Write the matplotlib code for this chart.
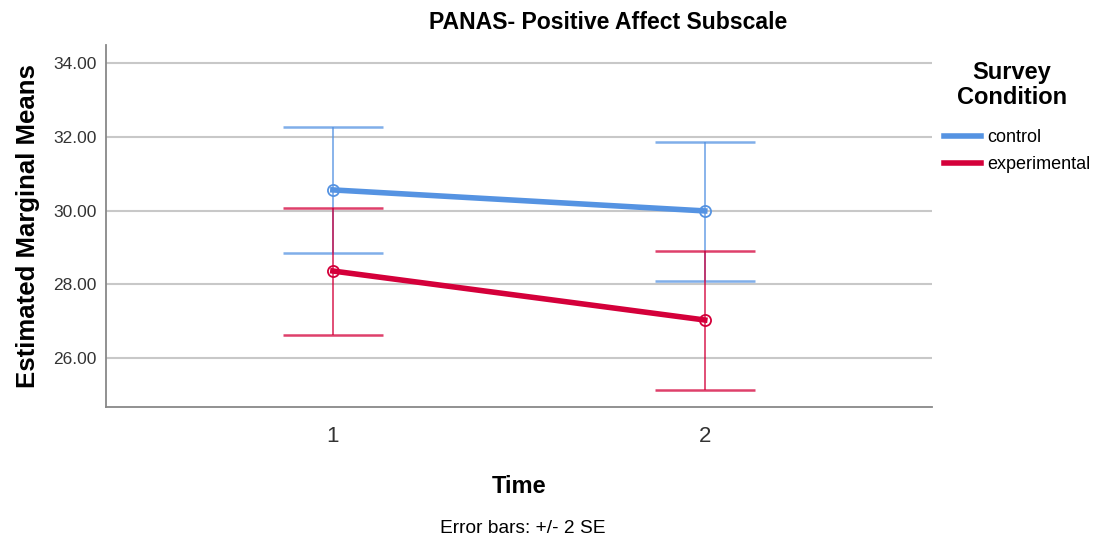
import matplotlib
matplotlib.use("Agg")
import matplotlib.pyplot as plt
from matplotlib.lines import Line2D

plt.rcParams['font.family'] = ['Liberation Sans', 'DejaVu Sans']

# данные
times = [1, 2]
time_labels = ["1", "2"]
control_mean = [30.56, 29.99]
control_hi = [32.26, 31.86]
control_lo = [28.85, 28.09]
exp_mean = [28.36, 27.03]
exp_hi = [30.07, 28.90]
exp_lo = [26.62, 25.13]
yticks = [26, 28, 30, 32, 34]

blue = "#5593E2"
red = "#D4003A"

fig = plt.figure(figsize=(10.95, 5.41), dpi=100)
ax = fig.add_axes([0.0968, 0.2477, 0.754, 0.669])

for mean, lo, hi, col in [(control_mean, control_lo, control_hi, blue),
                          (exp_mean, exp_lo, exp_hi, red)]:
    err = [[m - l for m, l in zip(mean, lo)], [h - m for h, m in zip(hi, mean)]]
    ax.errorbar(times, mean, yerr=err, fmt="none", ecolor=col, elinewidth=1.3,
                capsize=36, capthick=1.8, alpha=0.75, zorder=3)
    ax.plot(times, mean, color=col, lw=4, zorder=4)
    ax.plot(times, mean, "o", ms=8, mfc="none", mec=col, mew=1.3, zorder=5)

ax.set_xlim(0.39, 2.61)
ax.set_ylim(24.67, 34.49)
ax.set_xticks(times)
ax.set_xticklabels(time_labels, fontsize=16, color="#333333")
ax.set_yticks(yticks)
ax.set_yticklabels([f"{v:.2f}" for v in yticks], fontsize=12.5, color="#333333")
ax.tick_params(axis="both", length=0, pad=7)
ax.tick_params(axis="x", pad=14)
ax.grid(axis="y", color="#c8c8c8", lw=1.5)
ax.set_axisbelow(True)
for s in ["top", "right"]:
    ax.spines[s].set_visible(False)
for s in ["left", "bottom"]:
    ax.spines[s].set_color("#888888")
    ax.spines[s].set_linewidth(1.3)

ax.set_ylabel("Estimated Marginal Means", fontsize=18.5, fontweight="bold", labelpad=9)
fig.text(0.474, 0.10, "Time", fontsize=17, fontweight="bold", ha="center", va="center")
fig.text(0.477, 0.024, "Error bars: +/- 2 SE", fontsize=13.8, ha="center", va="center")
fig.text(0.555, 0.958, "PANAS- Positive Affect Subscale", fontsize=16.6, fontweight="bold",
         ha="center", va="center")

# заголовок легенды отдельно
fig.text(0.924, 0.843, "Survey\nCondition", fontsize=17, fontweight="bold",
         ha="center", va="center", multialignment="center", linespacing=1.12)
handles = [Line2D([0], [0], color=blue, lw=4), Line2D([0], [0], color=red, lw=4)]
fig.legend(handles, ["control", "experimental"], loc="upper left",
           bbox_to_anchor=(0.851, 0.784), frameon=False, fontsize=13,
           handlelength=2.0, handletextpad=0.35, labelspacing=0.55, borderpad=0.2)

fig.savefig("out.png", dpi=100)
